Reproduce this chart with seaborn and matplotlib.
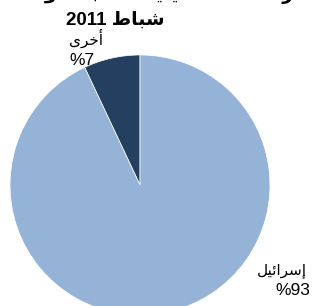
import matplotlib

matplotlib.use("Agg")

import matplotlib.pyplot as plt
import seaborn as sns

# values
categories = ["أخرى", "إسرائيل"]
shares = [7, 93]
share_labels = ["%7", "%93"]
colors = ["#243F60", "#95B3D7"]
title_line1 = "الصادرات الفلسطينية حسب الدولة المستوردة في"
title_line2 = "شباط 2011"

# tiny arabic shaper: (isolated, final, initial, medial)
FORMS = {
    "ا": (0xFE8D, 0xFE8E, None, None), "أ": (0xFE83, 0xFE84, None, None),
    "إ": (0xFE87, 0xFE88, None, None), "ب": (0xFE8F, 0xFE90, 0xFE91, 0xFE92),
    "ت": (0xFE95, 0xFE96, 0xFE97, 0xFE98), "ة": (0xFE93, 0xFE94, None, None),
    "ج": (0xFE9D, 0xFE9E, 0xFE9F, 0xFEA0), "ح": (0xFEA1, 0xFEA2, 0xFEA3, 0xFEA4),
    "خ": (0xFEA5, 0xFEA6, 0xFEA7, 0xFEA8), "د": (0xFEA9, 0xFEAA, None, None),
    "ذ": (0xFEAB, 0xFEAC, None, None), "ر": (0xFEAD, 0xFEAE, None, None),
    "ز": (0xFEAF, 0xFEB0, None, None), "س": (0xFEB1, 0xFEB2, 0xFEB3, 0xFEB4),
    "ش": (0xFEB5, 0xFEB6, 0xFEB7, 0xFEB8), "ص": (0xFEB9, 0xFEBA, 0xFEBB, 0xFEBC),
    "ط": (0xFEC1, 0xFEC2, 0xFEC3, 0xFEC4), "ع": (0xFEC9, 0xFECA, 0xFECB, 0xFECC),
    "غ": (0xFECD, 0xFECE, 0xFECF, 0xFED0), "ف": (0xFED1, 0xFED2, 0xFED3, 0xFED4),
    "ق": (0xFED5, 0xFED6, 0xFED7, 0xFED8), "ك": (0xFED9, 0xFEDA, 0xFEDB, 0xFEDC),
    "ل": (0xFEDD, 0xFEDE, 0xFEDF, 0xFEE0), "م": (0xFEE1, 0xFEE2, 0xFEE3, 0xFEE4),
    "ن": (0xFEE5, 0xFEE6, 0xFEE7, 0xFEE8), "ه": (0xFEE9, 0xFEEA, 0xFEEB, 0xFEEC),
    "و": (0xFEED, 0xFEEE, None, None), "ى": (0xFEEF, 0xFEF0, None, None),
    "ي": (0xFEF1, 0xFEF2, 0xFEF3, 0xFEF4), "ئ": (0xFE89, 0xFE8A, 0xFE8B, 0xFE8C),
}


def shape_word(word):
    out = []
    for i, ch in enumerate(word):
        if ch not in FORMS:
            out.append(ch)
            continue
        prev = word[i - 1] if i > 0 else None
        nxt = word[i + 1] if i + 1 < len(word) else None
        joins_prev = prev in FORMS and FORMS[prev][2] is not None
        joins_next = nxt in FORMS and FORMS[ch][2] is not None
        iso, fin, ini, med = FORMS[ch]
        if joins_prev and joins_next:
            code = med
        elif joins_prev:
            code = fin
        elif joins_next:
            code = ini
        else:
            code = iso
        out.append(chr(code))
    return "".join(reversed(out))


def rtl(text):
    words = []
    for w in text.split(" "):
        if any(c in FORMS for c in w):
            words.append(shape_word(w))
        else:
            words.append(w)
    return " ".join(reversed(words))


sns.set_theme(style="white")
plt.rcParams["font.family"] = ["Liberation Sans", "DejaVu Sans"]

fig = plt.figure(figsize=(3.12, 3.06), dpi=100)
ax = fig.add_axes([0, 0, 1, 1])
ax.pie(
    shares,
    colors=colors,
    startangle=90,
    counterclock=True,
    radius=1.0,
    wedgeprops={"edgecolor": "white", "linewidth": 0.5},
)
ax.set_xlim(-1.077, 1.323)
ax.set_ylim(-0.931, 1.423)
ax.set_aspect("equal")
ax.axis("off")

# slice labels: name above, share below
name_pos = [(-0.415, 1.131), (1.092, -0.662)]
share_pos = [(-0.446, 0.958), (1.177, -0.808)]
for cat, lab, (nx, ny), (sx, sy) in zip(categories, share_labels, name_pos, share_pos):
    ax.text(nx, ny, rtl(cat), ha="center", va="center", fontsize=11, color="black")
    ax.text(sx, sy, lab, ha="center", va="center", fontsize=12.5, color="black")

fig.text(0.37, 1.004, rtl(title_line1), ha="center", va="baseline",
         fontsize=13.5, fontweight="bold", color="black")
fig.text(0.37, 0.934, rtl(title_line2), ha="center", va="center",
         fontsize=13.5, fontweight="bold", color="black")

fig.savefig("out.png", dpi=100)
